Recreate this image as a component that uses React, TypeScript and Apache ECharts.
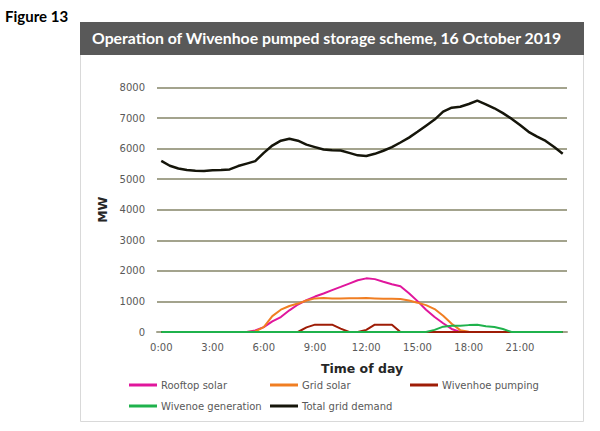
import React, { useEffect, useRef } from "react";
import * as echarts from "echarts";

const times: string[] = [];
for (let h = 0; h < 24; h++) {
  times.push(`${h}:00`);
  times.push(`${h}:30`);
}

const rooftopSolar = [
  0, 0, 0, 0, 0, 0, 0, 0, 0, 0, 0, 50, 160, 350, 490, 710, 900, 1040, 1160, 1260, 1370, 1475, 1585, 1695,
  1755, 1730, 1645, 1565, 1495, 1270, 1010, 730, 490, 285, 100, 0, 0, 0, 0, 0, 0, 0, 0, 0, 0, 0, 0, 0,
];
const gridSolar = [
  0, 0, 0, 0, 0, 0, 0, 0, 0, 0, 0, 20, 160, 520, 730, 850, 930, 1030, 1100, 1110, 1095, 1095, 1105, 1105,
  1110, 1100, 1090, 1085, 1080, 1030, 960, 880, 750, 530, 270, 60, 10, 0, 0, 0, 0, 0, 0, 0, 0, 0, 0, 0,
];
const wivenhoePumping = [
  0, 0, 0, 0, 0, 0, 0, 0, 0, 0, 0, 0, 0, 0, 0, 0, 0, 150, 240, 240, 240, 110, 0, 0,
  70, 240, 240, 240, 0, 0, 0, 0, 0, 0, 0, 0, 0, 0, 0, 0, 0, 0, 0, 0, 0, 0, 0, 0,
];
const wivenoeGeneration = [
  0, 0, 0, 0, 0, 0, 0, 0, 0, 0, 0, 0, 0, 0, 0, 0, 0, 0, 0, 0, 0, 0, 0, 0,
  0, 0, 0, 0, 0, 0, 0, 0, 70, 175, 205, 205, 225, 240, 190, 165, 100, 0, 0, 0, 0, 0, 0, 0,
];
const totalGridDemand = [
  5600, 5440, 5350, 5300, 5280, 5270, 5290, 5300, 5320, 5430, 5510, 5590, 5860, 6100, 6260, 6320, 6260, 6130,
  6050, 5970, 5950, 5940, 5860, 5780, 5760, 5830, 5930, 6050, 6200, 6360, 6550, 6750, 6950, 7210, 7340, 7370,
  7460, 7570, 7450, 7320, 7160, 6980, 6770, 6550, 6390, 6250, 6050, 5830,
];

const seriesNames = ["Rooftop solar", "Grid solar", "Wivenhoe pumping", "Wivenoe generation", "Total grid demand"];
const seriesColors = ["#e0169c", "#f07e22", "#9e1c06", "#1fb24c", "#15150a"];
const seriesData = [rooftopSolar, gridSolar, wivenhoePumping, wivenoeGeneration, totalGridDemand];

const chartTitle = "Operation of Wivenhoe pumped storage scheme, 16 October 2019";
const figureLabel = "Figure 13";

const legendPos = [
  { left: 129, top: 380 },
  { left: 270, top: 380 },
  { left: 410, top: 380 },
  { left: 129, top: 401 },
  { left: 270, top: 401 },
];

export default function App() {
  const ref = useRef<HTMLDivElement>(null);
  useEffect(() => {
    document.body.style.margin = "0";
    const chart = echarts.init(ref.current!, undefined, { renderer: "svg" });
    const axisFont = { fontFamily: "DejaVu Sans", fontSize: 10, color: "#595959" };
    chart.setOption({
      animation: false,
      backgroundColor: "#ffffff",
      graphic: [
        {
          type: "text",
          left: 5,
          top: 8,
          style: { text: figureLabel, font: "bold 15px Lato", fill: "#000000" },
        },
        {
          type: "rect",
          shape: { x: 80.5, y: 54.5, width: 503, height: 367 },
          style: { fill: "#ffffff", stroke: "#d9d9d9", lineWidth: 1 },
          z: -10,
        },
        {
          type: "rect",
          shape: { x: 80, y: 22, width: 504, height: 33 },
          style: { fill: "#595959" },
        },
        {
          type: "text",
          left: 92,
          top: 29,
          style: { text: chartTitle, font: "bold 15.8px Lato", fill: "#ffffff" },
        },
      ],
      grid: { left: 157, right: 33, top: 87.5, bottom: 99 },
      xAxis: {
        type: "category",
        data: times,
        boundaryGap: true,
        axisTick: { show: false },
        axisLine: { show: true, lineStyle: { color: "#a3a38d", width: 2 } },
        axisLabel: { ...axisFont, interval: 5, margin: 10 },
        name: "Time of day",
        nameLocation: "middle",
        nameGap: 30,
        nameTextStyle: { fontFamily: "DejaVu Sans", fontSize: 12.5, fontWeight: "bold", color: "#262626" },
      },
      yAxis: {
        type: "value",
        min: 0,
        max: 8000,
        interval: 1000,
        axisLine: { show: false },
        axisTick: { show: false },
        axisLabel: { ...axisFont, margin: 12, formatter: (v: number) => String(v) },
        splitLine: { lineStyle: { color: "#a3a38d", width: 2 } },
        name: "MW",
        nameLocation: "middle",
        nameGap: 46,
        nameTextStyle: { fontFamily: "DejaVu Sans", fontSize: 12.5, fontWeight: "bold", color: "#262626" },
      },
      legend: seriesNames.map((n, i) => ({
        data: [n],
        left: legendPos[i].left,
        top: legendPos[i].top,
        icon: "rect",
        itemWidth: 28,
        itemHeight: 3,
        padding: 0,
        textStyle: { fontFamily: "DejaVu Sans", fontSize: 10, color: "#595959", padding: [0, 0, 0, -1] },
      })),
      series: seriesNames.map((n, i) => ({
        name: n,
        type: "line",
        data: seriesData[i],
        showSymbol: false,
        symbol: "none",
        color: seriesColors[i],
        lineStyle: { color: seriesColors[i], width: i === 4 ? 2.5 : 2 },
        z: 2 + i,
      })),
    });
    return () => chart.dispose();
  }, []);
  return <div ref={ref} style={{ position: "fixed", left: 0, top: 0, width: 600, height: 431 }} />;
}
